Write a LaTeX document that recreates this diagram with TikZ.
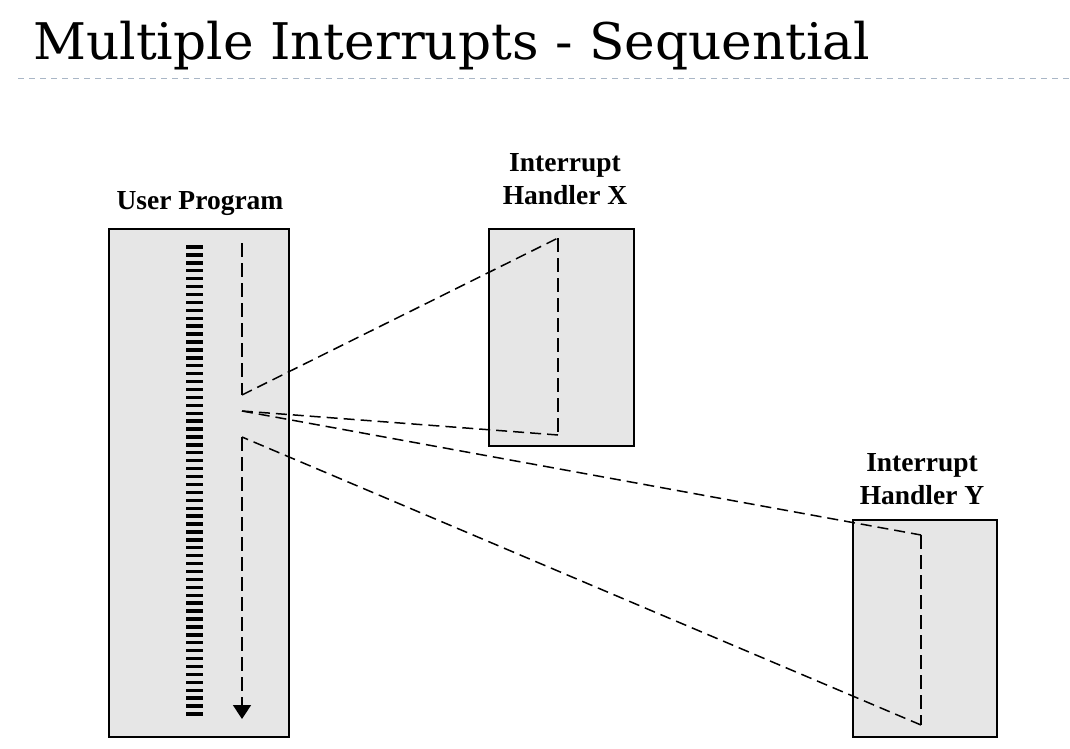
\documentclass[tikz,border=0pt]{standalone}
\usepackage{fontspec}
\setmainfont{Liberation Serif}
\newfontfamily\titlefont{DejaVu Serif}
\usetikzlibrary{arrows.meta}
\definecolor{boxgray}{HTML}{E6E6E6}
\definecolor{rulegray}{HTML}{A9B6C6}
\begin{document}
\begin{tikzpicture}[x=1pt,y=-1pt,
  box/.style={draw=black, fill=boxgray, line width=2pt, anchor=north west, inner sep=0pt},
  lbl/.style={font=\fontsize{27.5}{33}\selectfont\bfseries, align=center, inner sep=0pt},
  flow/.style={line width=1.5pt, dash pattern=on 11pt off 6pt},
  vflow/.style={line width=1.6pt, dash pattern=on 14pt off 6pt},
  bar/.style={fill=black}]
\useasboundingbox (0,0) rectangle (1070,749);
% title
\node[anchor=base west, inner sep=0pt, font=\titlefont\fontsize{50.5}{54}\selectfont] (title) at (33,60)
  {\resizebox{837pt}{\height}{Multiple Interrupts - Sequential}};
\draw[rulegray, line width=1pt, dash pattern=on 6pt off 5pt] (18,79) -- (1070,79);
% boxes
\node[box, minimum width=180pt, minimum height=508pt] (user) at (108,228) {};
\node[box, minimum width=145pt, minimum height=217pt] (hx) at (488,228) {};
\node[box, minimum width=144pt, minimum height=217pt] (hy) at (852,519) {};
% labels
\node[lbl, anchor=base] (luser) at (200,209) {User Program};
\node[lbl, anchor=north] (lhx) at (565,153) {Interrupt\\Handler X};
\node[lbl, anchor=north] (lhy) at (922,453) {Interrupt\\Handler Y};
% instruction bars
\foreach \i in {0,...,59}
  \fill[bar] (186,{247+\i*7.915-1.7}) rectangle (203,{247+\i*7.915+1.7});
% flow coordinates
\coordinate (a0) at (242,243);
\coordinate (a1) at (242,395);
\coordinate (xt) at (558,238);
\coordinate (xb) at (558,435);
\coordinate (a2) at (242,411);
\coordinate (yt) at (921,535);
\coordinate (yb) at (921,725);
\coordinate (a3) at (242,437);
\coordinate (a4) at (242,719);
% flows
\draw[vflow] (a0) -- (a1);
\draw[flow] (a1) -- (xt);
\draw[vflow] (xt) -- (xb);
\draw[flow] (xb) -- (a2);
\draw[flow] (a2) -- (yt);
\draw[vflow] (yt) -- (yb);
\draw[flow] (yb) -- (a3);
\draw[vflow, -{Triangle[width=18pt,length=14pt]}] (a3) -- (a4);
\end{tikzpicture}
\end{document}
